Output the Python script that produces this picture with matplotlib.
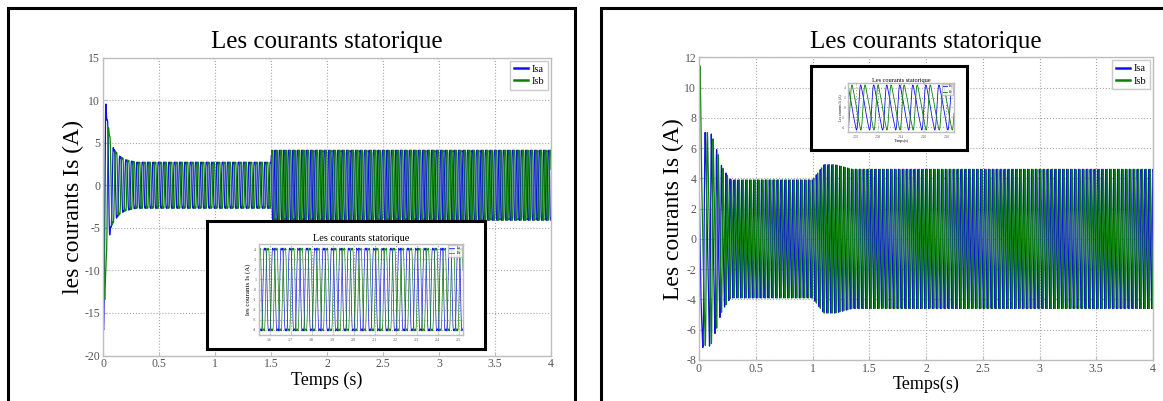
import numpy as np
import matplotlib
matplotlib.use("Agg")
import matplotlib.pyplot as plt
from matplotlib.patches import Rectangle

plt.rcParams['font.family'] = ['Liberation Serif', 'DejaVu Serif']
plt.rcParams['axes.unicode_minus'] = False

W, H = 1163, 401

# ---- data: envelopes and carrier frequencies of the stator currents ----
TITLE = "Les courants statorique"
SERIES = ["Isa", "Isb"]

# left test: load step at 1.5 s
left_env_t = [0.0, 0.006, 0.03, 0.07, 0.10, 0.15, 0.20, 0.30, 1.50, 1.505, 4.0]
left_env_a = [17.5, 17.0, 8.5, 5.0, 4.2, 3.4, 3.0, 2.7, 2.7, 4.1, 4.1]
left_freq_t = [0.0, 0.10, 0.30, 1.50, 1.505, 4.0]
left_freq_hz = [14.0, 17.0, 21.0, 21.0, 25.0, 25.0]
left_harm = [1.0, 0.0, 0.18]          # odd-harmonic content of the current
left_xticks = [0, 0.5, 1, 1.5, 2, 2.5, 3, 3.5, 4]
left_yticks = [-20, -15, -10, -5, 0, 5, 10, 15]
left_xtick_labels = ["0", "0.5", "1", "1.5", "2", "2.5", "3", "3.5", "4"]

# right test: load step at 1.0 s
right_env_t = [0.0, 0.012, 0.03, 0.06, 0.10, 0.13, 0.16, 0.20, 0.25, 0.28, 1.0, 1.10, 1.20, 1.35, 4.0]
right_env_a = [11.5, 11.4, 7.2, 7.0, 7.1, 6.5, 5.8, 4.8, 4.2, 3.9, 3.9, 4.9, 4.9, 4.6, 4.6]
right_freq_t = [0.0, 0.10, 0.30, 4.0]
right_freq_hz = [12.0, 20.0, 29.0, 29.0]
right_harm = [1.0, 0.30, 0.10]        # sawtooth-like shape
right_xticks = [0, 0.5, 1, 1.5, 2, 2.5, 3, 3.5, 4]
right_yticks = [-8, -6, -4, -2, 0, 2, 4, 6, 8, 10, 12]
right_xtick_labels = ["0", "0.5", "1", "1.5", "2", "2.5", "3", "3.5", "4"]

BLUE = "#1010f0"
GREEN = "#0a800a"


def currents(t, env_t, env_a, f_t, f_hz, harm, phase0):
    env = np.interp(t, env_t, env_a)
    f = np.interp(t, f_t, f_hz)
    theta = 2 * np.pi * np.cumsum(f) * (t[1] - t[0])
    ref = np.linspace(0, 2 * np.pi, 2000)
    peak = np.max(np.abs(sum(h * np.sin((k + 1) * ref) for k, h in enumerate(harm))))
    out = []
    for shift in (0.0, -2 * np.pi / 3):
        th = theta + phase0 + shift
        shape = sum(h * np.sin((k + 1) * th) for k, h in enumerate(harm))
        out.append(env * shape / peak)
    return out


t = np.linspace(0, 4, 160001)
L_a, L_b = currents(t, left_env_t, left_env_a, left_freq_t, left_freq_hz, left_harm, -np.pi / 2)
R_a, R_b = currents(t, right_env_t, right_env_a, right_freq_t, right_freq_hz, right_harm,
                    2 * np.pi / 3 + 0.35)


def px_rect(x0, y0, x1, y1):
    return [x0 / W, 1 - y1 / H, (x1 - x0) / W, (y1 - y0) / H]


def matlab_style(ax, fs, tick_len=3):
    for s in ax.spines.values():
        s.set_color("#bdbdbd")
        s.set_linewidth(1.0)
    ax.tick_params(direction="in", length=tick_len, color="#bdbdbd",
                   labelcolor="#555555", labelsize=fs, pad=2)
    ax.grid(True, linestyle=":", color="#a8a8a8", linewidth=0.8)
    ax.set_axisbelow(True)


def small_legend(ax, fs, hl):
    lg = ax.legend(loc="upper right", fontsize=fs, handlelength=hl, handletextpad=0.3,
                   borderpad=0.35, labelspacing=0.3, fancybox=False, borderaxespad=0.3)
    lg.get_frame().set_edgecolor("#bdbdbd")
    return lg


fig = plt.figure(figsize=(W / 100, H / 100), dpi=100)

# panel frames
fig.add_artist(Rectangle((8 / W, -0.1), (575 - 8) / W, 1.1 - 8 / H,
                         transform=fig.transFigure, fill=False, ec="black", lw=2.2))
fig.add_artist(Rectangle((601 / W, -0.1), 0.6, 1.1 - 8 / H,
                         transform=fig.transFigure, fill=False, ec="black", lw=2.2))

# ---------------- left main plot ----------------
ax1 = fig.add_axes(px_rect(103, 57.5, 551, 355.5))
ax1.plot(t, L_a, color=BLUE, lw=0.9, label=SERIES[0])
ax1.plot(t, L_b, color=GREEN, lw=0.9, label=SERIES[1])
ax1.set_xlim(0, 4)
ax1.set_ylim(-20, 15)
ax1.set_xticks(left_xticks)
ax1.set_xticklabels(left_xtick_labels)
ax1.set_yticks(left_yticks)
matlab_style(ax1, 8.5)
ax1.set_title(TITLE, fontsize=18, pad=7)
ax1.set_xlabel("Temps (s)", fontsize=13, labelpad=1)
ax1.set_ylabel("les courants Is (A)", fontsize=17, labelpad=0)
leg = small_legend(ax1, 7.5, 1.4)
for ln in leg.get_lines():
    ln.set_linewidth(1.8)

# left inset: zoom on steady state
box1 = fig.add_axes(px_rect(207, 221, 485, 349))
box1.set_xticks([]); box1.set_yticks([])
for s in box1.spines.values():
    s.set_linewidth(2.2); s.set_color("black")
in1 = fig.add_axes(px_rect(259, 244, 463, 335))
m = (t >= 1.55) & (t <= 2.52)
in1.plot(t[m], L_a[m], color=BLUE, lw=0.5, label=SERIES[0])
in1.plot(t[m], L_b[m], color=GREEN, lw=0.5, label=SERIES[1])
in1.set_xlim(1.55, 2.52)
in1.set_ylim(-4.5, 4.5)
in1.set_xticks([1.6, 1.7, 1.8, 1.9, 2.0, 2.1, 2.2, 2.3, 2.4, 2.5])
in1.set_yticks([-4, -3, -2, -1, 0, 1, 2, 3, 4])
matlab_style(in1, 3, tick_len=1.5)
in1.set_title(TITLE, fontsize=7.5, pad=2)
in1.set_ylabel("les courants Is (A)", fontsize=5, labelpad=1)
lg1 = in1.legend(loc="upper right", fontsize=2.5, handlelength=1.5, borderpad=0.3,
                 fancybox=False, borderaxespad=0.2)
lg1.get_frame().set_edgecolor("#bdbdbd")

# ---------------- right main plot ----------------
ax2 = fig.add_axes(px_rect(699, 57.3, 1153, 360))
ax2.plot(t, R_a, color=BLUE, lw=0.9, label=SERIES[0])
ax2.plot(t, R_b, color=GREEN, lw=0.9, label=SERIES[1])
ax2.set_xlim(0, 4)
ax2.set_ylim(-8, 12)
ax2.set_xticks(right_xticks)
ax2.set_xticklabels(right_xtick_labels)
ax2.set_yticks(right_yticks)
matlab_style(ax2, 8.5)
ax2.set_title(TITLE, fontsize=18, pad=7)
ax2.set_xlabel("Temps(s)", fontsize=13, labelpad=1)
ax2.set_ylabel("Les courants Is (A)", fontsize=17, labelpad=0)
leg2 = small_legend(ax2, 7.5, 1.4)
for ln in leg2.get_lines():
    ln.set_linewidth(1.8)

# right inset: zoom on a few periods
box2 = fig.add_axes(px_rect(811, 66, 967, 150))
box2.set_xticks([]); box2.set_yticks([])
for s in box2.spines.values():
    s.set_linewidth(2.2); s.set_color("black")
in2 = fig.add_axes(px_rect(848, 83, 954, 132))
m2 = (t >= 2.0) & (t <= 2.28)
in2.plot(t[m2], R_a[m2], color=BLUE, lw=0.6, label=SERIES[0])
in2.plot(t[m2], R_b[m2], color=GREEN, lw=0.6, label=SERIES[1])
in2.set_xlim(2.0, 2.28)
in2.set_ylim(-5, 5)
in2.set_xticks([2.02, 2.08, 2.14, 2.20, 2.26])
in2.set_yticks([-4, -2, 0, 2, 4])
matlab_style(in2, 2.5, tick_len=1)
in2.set_title(TITLE, fontsize=4.5, pad=1)
in2.set_xlabel("Temps(s)", fontsize=3, labelpad=0.5)
in2.set_ylabel("Les courants Is (A)", fontsize=2.5, labelpad=0.5)
lg2 = in2.legend(loc="upper right", fontsize=2, handlelength=1.5, borderpad=0.3,
                 fancybox=False, borderaxespad=0.2)
lg2.get_frame().set_edgecolor("#bdbdbd")

fig.savefig("out.png", dpi=100)
